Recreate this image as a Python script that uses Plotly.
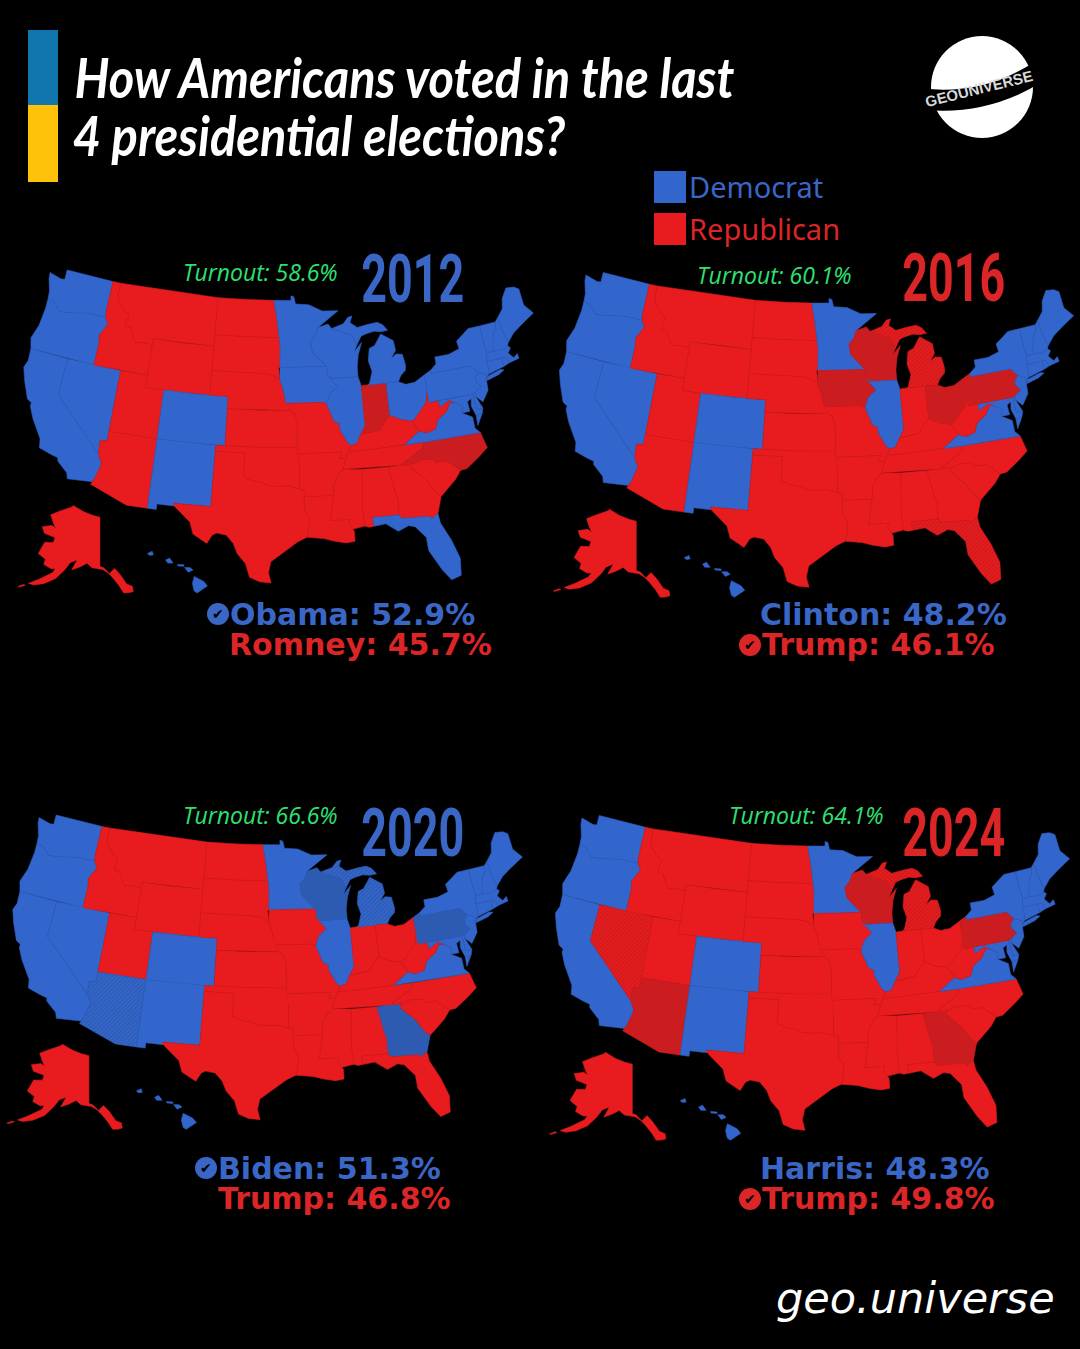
import json
import numpy as np
import plotly.graph_objects as go

# results shown on each map
YEARS = ["2012", "2016", "2020", "2024"]
TURNOUT = ["58.6%", "60.1%", "66.6%", "64.1%"]
DEM_LABELS = ["Obama: 52.9%", "Clinton: 48.2%", "Biden: 51.3%", "Harris: 48.3%"]
REP_LABELS = ["Romney: 45.7%", "Trump: 46.1%", "Trump: 46.8%", "Trump: 49.8%"]
WINNERS = ["D", "R", "D", "R"]

BLUE_CORE = ["WA", "OR", "CA", "CO", "NM", "MN", "IL", "VA", "MD", "DE", "NJ", "NY", "CT", "RI", "MA", "VT", "NH", "ME", "HI"]
DEM_2012 = BLUE_CORE + ["NV", "WI", "IA", "MI", "OH", "PA", "FL"]
DEM_2016 = BLUE_CORE + ["NV"]
DEM_2020 = BLUE_CORE + ["NV", "AZ", "WI", "MI", "PA", "GA"]
DEM_2024 = BLUE_CORE
DEM_STATES = [DEM_2012, DEM_2016, DEM_2020, DEM_2024]
FLIPPED = [["IN", "NC"], ["WI", "IA", "OH", "PA"], ["WI", "PA", "GA"], ["WI", "PA", "AZ", "GA"]]
HATCHED = [[], ["MI", "FL"], ["AZ", "MI"], ["NV", "MI"]]

# state outlines, lon/lat
WA = [(-124.7, 48.4), (-123.2, 48.15), (-122.75, 48.2), (-122.8, 49), (-117.03, 49), (-117.04, 46.42), (-116.92, 45.99), (-118.98, 46), (-119.3, 45.93), (-121.2, 45.65), (-122.3, 45.55), (-122.8, 45.9), (-123.2, 46.15), (-124, 46.27), (-124.1, 46.9), (-124.6, 47.9)]
OR = [(-124, 46.27), (-123.2, 46.15), (-122.8, 45.9), (-122.3, 45.55), (-121.2, 45.65), (-119.3, 45.93), (-118.98, 46), (-116.92, 45.99), (-116.5, 45.5), (-116.85, 44.95), (-117.2, 44.45), (-117.03, 43.83), (-117.03, 42), (-124.2, 42), (-124.55, 42.84), (-124.1, 44), (-123.95, 45.5)]
CA = [(-124.2, 42), (-120, 42), (-120, 39), (-114.63, 35), (-114.14, 34.3), (-114.52, 33.03), (-114.72, 32.72), (-117.12, 32.53), (-117.3, 33), (-118.4, 33.75), (-118.5, 34.03), (-119.2, 34.15), (-120.5, 34.45), (-120.65, 35.15), (-121.9, 36.6), (-122.5, 37.5), (-122.5, 37.8), (-123, 38), (-123.8, 39.3), (-124.35, 40.4), (-124.1, 41)]
NV = [(-120, 42), (-114.04, 42), (-114.04, 36.2), (-114.75, 36.1), (-114.63, 35), (-120, 39)]
ID = [(-117.03, 49), (-116.05, 49), (-116.05, 48), (-115.7, 47.45), (-114.7, 46.7), (-114.35, 46.65), (-114.5, 45.55), (-113.9, 45.6), (-113.45, 44.95), (-113, 44.45), (-112.3, 44.55), (-111.5, 44.55), (-111.05, 44.48), (-111.05, 42), (-117.03, 42), (-117.03, 43.83), (-117.2, 44.45), (-116.85, 44.95), (-116.5, 45.5), (-116.92, 45.99), (-117.04, 46.42)]
MT = [(-116.05, 49), (-104.05, 49), (-104.05, 45), (-111.05, 45), (-111.05, 44.48), (-111.5, 44.55), (-112.3, 44.55), (-113, 44.45), (-113.45, 44.95), (-113.9, 45.6), (-114.5, 45.55), (-114.35, 46.65), (-114.7, 46.7), (-115.7, 47.45), (-116.05, 48)]
WY = [(-111.05, 45), (-107.5, 45), (-104.05, 45), (-104.05, 41), (-107.5, 41), (-111.05, 41)]
UT = [(-114.04, 42), (-111.05, 42), (-111.05, 41), (-109.05, 41), (-109.05, 37), (-114.04, 37)]
CO = [(-109.05, 41), (-105.5, 41), (-102.05, 41), (-102.05, 37), (-105.5, 37), (-109.05, 37)]
AZ = [(-114.04, 37), (-109.05, 37), (-109.05, 31.33), (-111.07, 31.33), (-114.81, 32.5), (-114.72, 32.72), (-114.52, 33.03), (-114.14, 34.3), (-114.63, 35), (-114.75, 36.1), (-114.04, 36.2)]
NM = [(-109.05, 37), (-103, 37), (-103.04, 32), (-106.62, 32), (-106.53, 31.78), (-108.2, 31.78), (-108.2, 31.33), (-109.05, 31.33)]
ND = [(-104.05, 49), (-100.5, 49), (-97.23, 49), (-96.85, 47.5), (-96.56, 45.94), (-100.5, 45.94), (-104.05, 45.94)]
SD = [(-104.05, 45.94), (-100.5, 45.94), (-96.56, 45.94), (-96.45, 45.3), (-96.45, 43.5), (-96.6, 43.5), (-96.45, 42.49), (-97.2, 42.85), (-98.5, 43), (-104.05, 43)]
NE = [(-104.05, 43), (-98.5, 43), (-97.2, 42.85), (-96.45, 42.49), (-96.1, 41.7), (-95.9, 41), (-95.31, 40), (-102.05, 40), (-102.05, 41), (-104.05, 41)]
KS = [(-102.05, 40), (-98.5, 40), (-95.31, 40), (-94.9, 39.8), (-94.62, 39.1), (-94.62, 37), (-98.5, 37), (-102.04, 37)]
OK = [(-103, 37), (-98.5, 37), (-94.62, 37), (-94.43, 35.4), (-94.48, 33.64), (-95.5, 33.9), (-96.6, 33.85), (-97.5, 33.9), (-98.1, 34.13), (-99.2, 34.3), (-100, 34.56), (-100, 36.5), (-103, 36.5)]
TX = [(-103, 36.5), (-100, 36.5), (-100, 34.56), (-99.2, 34.3), (-98.1, 34.13), (-97.5, 33.9), (-96.6, 33.85), (-95.5, 33.9), (-94.48, 33.64), (-94.04, 33.55), (-94.04, 32), (-93.55, 31.2), (-93.7, 30.1), (-93.85, 29.7), (-94.7, 29.35), (-95.9, 28.6), (-97.2, 27.7), (-97.4, 26.8), (-97.15, 25.96), (-98.2, 26.05), (-99.1, 26.4), (-99.5, 27.5), (-100.3, 28.3), (-100.7, 29.1), (-101.4, 29.77), (-102.3, 29.88), (-102.7, 29.7), (-103.15, 28.98), (-104.5, 29.65), (-104.9, 30.6), (-106.53, 31.78), (-106.62, 32), (-103.04, 32)]
MN = [(-97.23, 49), (-95.15, 49), (-95.15, 49.38), (-94.8, 49.3), (-94.6, 48.7), (-93, 48.6), (-91.4, 48.05), (-89.5, 48), (-92, 46.7), (-92.3, 46.1), (-92.9, 45.6), (-92.75, 44.75), (-91.2, 43.5), (-96.45, 43.5), (-96.45, 45.3), (-96.56, 45.94), (-96.85, 47.5)]
IA = [(-96.45, 43.5), (-91.2, 43.5), (-91.1, 42.7), (-90.15, 41.8), (-91.05, 41.2), (-91.4, 40.4), (-91.75, 40.6), (-95.77, 40.58), (-95.9, 41), (-96.1, 41.7), (-96.45, 42.49)]
MO = [(-95.77, 40.58), (-91.75, 40.6), (-91.4, 40.4), (-90.7, 39), (-90.15, 38.8), (-90.2, 38.4), (-89.5, 37.3), (-89.13, 36.98), (-89.4, 36.5), (-89.7, 36), (-90.37, 36), (-90.1, 36.5), (-94.62, 36.5), (-94.62, 37), (-94.62, 39.1), (-94.9, 39.8), (-95.31, 40)]
AR = [(-94.62, 36.5), (-90.1, 36.5), (-90.37, 36), (-89.7, 36), (-90.1, 35.1), (-90.6, 34.7), (-91.1, 33.9), (-91.17, 33), (-94.04, 33.02), (-94.04, 33.55), (-94.48, 33.64), (-94.43, 35.4)]
LA = [(-94.04, 33.02), (-91.17, 33), (-91.6, 31), (-89.73, 31), (-89.85, 30.67), (-89.55, 30.18), (-89.4, 30), (-89.4, 29.2), (-90.2, 29.1), (-91.3, 29.3), (-92.3, 29.55), (-93.85, 29.7), (-93.7, 30.1), (-93.55, 31.2), (-94.04, 32)]
WI = [(-92, 46.7), (-90.8, 46.95), (-90.4, 46.57), (-88.1, 45.9), (-87.8, 45.35), (-87.6, 45.1), (-88, 44.55), (-87.05, 45.25), (-87.55, 44.3), (-87.8, 43.3), (-87.8, 42.49), (-90.64, 42.5), (-91.1, 42.7), (-91.2, 43.5), (-92.75, 44.75), (-92.9, 45.6), (-92.3, 46.1)]
IL = [(-90.64, 42.5), (-87.8, 42.49), (-87.53, 41.72), (-87.53, 39.35), (-87.5, 38.5), (-88.05, 37.8), (-88.5, 37.1), (-89.13, 36.98), (-89.5, 37.3), (-90.2, 38.4), (-90.15, 38.8), (-90.7, 39), (-91.4, 40.4), (-91.05, 41.2), (-90.15, 41.8), (-91.1, 42.7)]
IN = [(-87.53, 41.72), (-87.2, 41.76), (-84.8, 41.76), (-84.82, 39.1), (-85.4, 38.7), (-86, 38), (-86.8, 37.95), (-88.05, 37.8), (-87.5, 38.5), (-87.53, 39.35)]
MI_LOWER = [(-86.8, 41.76), (-84.8, 41.76), (-83.45, 41.73), (-83.1, 42.2), (-82.5, 42.6), (-82.42, 43), (-82.6, 43.9), (-83.3, 44), (-83.9, 43.7), (-83.3, 44.3), (-83.4, 45.1), (-84.75, 45.78), (-85.6, 44.9), (-86.25, 44.7), (-86.5, 43.7), (-86.2, 42.8), (-86.6, 41.9)]
MI_UPPER = [(-90.4, 46.57), (-89, 46.9), (-88.4, 47.4), (-87.9, 47.47), (-88.2, 46.95), (-87.4, 46.5), (-86.1, 46.67), (-85, 46.75), (-84.4, 46.5), (-83.9, 46), (-84.7, 45.95), (-85.5, 46.05), (-86.5, 45.9), (-87.05, 45.75), (-87.6, 45.1), (-87.8, 45.35), (-88.1, 45.9)]
OH = [(-84.8, 41.76), (-83.45, 41.73), (-82.7, 41.45), (-81.7, 41.5), (-80.52, 41.98), (-80.52, 40.64), (-80.85, 39.7), (-81.75, 39), (-82.2, 38.6), (-82.6, 38.42), (-83.7, 38.65), (-84.82, 39.1)]
KY = [(-89.13, 36.98), (-88.5, 37.1), (-88.05, 37.8), (-86.8, 37.95), (-86, 38), (-85.4, 38.7), (-84.82, 39.1), (-83.7, 38.65), (-82.6, 38.42), (-81.97, 37.54), (-83.68, 36.6), (-88.07, 36.5), (-89.4, 36.5)]
TN = [(-89.7, 36), (-89.4, 36.5), (-88.07, 36.5), (-83.68, 36.6), (-81.68, 36.59), (-82, 36.1), (-84.32, 34.99), (-90.1, 35.1)]
MS = [(-90.1, 35.1), (-88.2, 35), (-88.47, 31.9), (-88.4, 30.37), (-89.55, 30.18), (-89.85, 30.67), (-89.73, 31), (-91.6, 31), (-91.17, 33), (-91.1, 33.9), (-90.6, 34.7)]
AL = [(-88.2, 35), (-85.6, 34.98), (-85.18, 32.87), (-85, 32.3), (-85.05, 31), (-87.6, 31), (-87.5, 30.3), (-88, 30.25), (-88.4, 30.37), (-88.47, 31.9)]
GA = [(-85.6, 34.98), (-83.1, 35), (-83.35, 34.7), (-82, 33.5), (-81.4, 32.6), (-80.85, 32.03), (-81.4, 30.7), (-82.05, 30.36), (-82.2, 30.57), (-84.86, 30.7), (-85.05, 31), (-85, 32.3), (-85.18, 32.87)]
FL = [(-87.6, 31), (-85.05, 31), (-84.86, 30.7), (-82.2, 30.57), (-82.05, 30.36), (-81.4, 30.7), (-81.3, 29.9), (-80.55, 28.4), (-80.03, 26.8), (-80.2, 25.4), (-81.1, 25.15), (-81.8, 26.1), (-82.75, 27.8), (-82.8, 28.9), (-83.7, 29.9), (-84.3, 30.05), (-85.3, 29.68), (-86.4, 30.4), (-87.5, 30.3)]
SC = [(-83.1, 35), (-82.3, 35.2), (-81.05, 35.15), (-80.8, 34.82), (-79.67, 34.8), (-78.55, 33.86), (-79.2, 33.2), (-80.85, 32.03), (-81.4, 32.6), (-82, 33.5), (-83.35, 34.7)]
NC = [(-84.32, 34.99), (-82, 36.1), (-81.68, 36.59), (-75.85, 36.55), (-75.5, 35.25), (-76.5, 34.65), (-77.9, 33.9), (-78.55, 33.86), (-79.67, 34.8), (-80.8, 34.82), (-81.05, 35.15), (-82.3, 35.2), (-83.1, 35)]
VA = [(-83.68, 36.6), (-81.97, 37.54), (-81.3, 37.3), (-80.3, 37.5), (-79.95, 38.2), (-78.87, 38.76), (-78.35, 39.4), (-77.75, 39.32), (-77.1, 38.9), (-77.3, 38.4), (-76.3, 37.9), (-76.3, 37), (-75.85, 36.55), (-81.68, 36.59)]
VA_SHORE = [(-75.9, 37.95), (-75.25, 38.03), (-75.95, 37.15)]
WV = [(-82.6, 38.42), (-82.2, 38.6), (-81.75, 39), (-80.85, 39.7), (-80.52, 40.64), (-80.52, 39.72), (-79.48, 39.72), (-79.48, 39.2), (-78.4, 39.62), (-77.75, 39.32), (-78.35, 39.4), (-78.87, 38.76), (-79.95, 38.2), (-80.3, 37.5), (-81.3, 37.3), (-81.97, 37.54)]
MD = [(-79.48, 39.72), (-75.79, 39.72), (-75.7, 38.46), (-75.05, 38.45), (-75.25, 38.03), (-75.9, 37.95), (-76.2, 38.8), (-76.05, 39.4), (-76.5, 39.2), (-76.45, 38.4), (-77.3, 38.4), (-77.1, 38.9), (-77.75, 39.32), (-78.4, 39.62), (-79.48, 39.2)]
DE = [(-75.79, 39.72), (-75.45, 39.82), (-75.55, 39.5), (-75.05, 38.45), (-75.7, 38.46)]
PA = [(-80.52, 41.98), (-79.76, 42.27), (-79.76, 42), (-75.35, 42), (-74.7, 41.36), (-75.13, 40.98), (-75.2, 40.65), (-74.72, 40.15), (-75.45, 39.82), (-75.79, 39.72), (-80.52, 39.72), (-80.52, 40.64)]
NY = [(-79.76, 42.27), (-79.76, 42), (-75.35, 42), (-74.7, 41.36), (-73.9, 41), (-74, 40.7), (-73.65, 41), (-73.5, 41.3), (-73.5, 42.05), (-73.27, 42.75), (-73.35, 43.6), (-73.35, 45), (-74.7, 45), (-76.3, 44.2), (-76.2, 43.55), (-77.5, 43.27), (-79.05, 43.27), (-79.05, 42.7)]
LONG_ISLAND = [(-74.03, 40.6), (-73.75, 40.87), (-72.3, 41.15), (-71.9, 41.05), (-72.6, 40.78), (-73.9, 40.55)]
NJ = [(-75.13, 40.98), (-74.7, 41.36), (-73.9, 41), (-74, 40.7), (-74.1, 39.75), (-74.9, 38.93), (-75.55, 39.5), (-75.45, 39.82), (-74.72, 40.15), (-75.2, 40.65)]
CT = [(-73.5, 42.05), (-71.8, 42.02), (-71.85, 41.32), (-73.65, 41), (-73.5, 41.3)]
RI = [(-71.8, 42.02), (-71.38, 42.02), (-71.15, 41.5), (-71.85, 41.32)]
MA = [(-73.5, 42.05), (-73.27, 42.75), (-71.3, 42.7), (-70.85, 42.87), (-70.6, 42.65), (-71, 42.3), (-70.55, 41.8), (-70.05, 42.05), (-70, 41.65), (-71.15, 41.5), (-71.38, 42.02), (-71.8, 42.02)]
VT = [(-73.35, 45), (-71.5, 45), (-71.6, 44.5), (-72.05, 44.1), (-72.45, 43.1), (-72.46, 42.73), (-73.27, 42.75), (-73.35, 43.6)]
NH = [(-71.5, 45), (-71.08, 45.3), (-71, 44.3), (-70.7, 43.1), (-70.85, 42.87), (-71.3, 42.7), (-72.46, 42.73), (-72.45, 43.1), (-72.05, 44.1), (-71.6, 44.5)]
ME = [(-71.08, 45.3), (-70.3, 45.9), (-70, 46.7), (-69.23, 47.46), (-68.3, 47.35), (-67.79, 47.07), (-67.8, 45.7), (-67, 44.85), (-68.5, 44.3), (-69.8, 43.75), (-70.7, 43.1), (-71, 44.3)]
AK = [(-141, 69.65), (-141, 60.3), (-139.5, 60), (-137.5, 58.9), (-135.5, 59.8), (-133.5, 58.4), (-131.8, 56.6), (-130, 56), (-130, 55), (-131.5, 54.9), (-133.2, 55), (-134.5, 56.5), (-136.5, 58.1), (-138, 59), (-140, 59.7), (-144, 60), (-146, 60.8), (-148.5, 60), (-151.5, 59.2), (-150, 61.2), (-152.5, 60.5), (-154, 59), (-156.5, 57), (-160, 55.5), (-163, 54.7), (-164.8, 54.65), (-162, 56), (-158, 58), (-157.5, 58.8), (-159, 58.6), (-162, 59), (-162, 60), (-165.3, 60.6), (-164.5, 63), (-161, 63.5), (-161, 64.5), (-166, 64.6), (-168, 65.6), (-164, 66.5), (-162, 66.2), (-163.8, 67), (-166.5, 68.3), (-163, 69.5), (-157, 71), (-156.5, 71.35), (-150, 70.5), (-145, 70)]
ALEUT_1 = [(-166.9, 53.4), (-165.5, 54.1), (-166.2, 54.1), (-167.6, 53.3)]
HI_BIG = [(-155.9, 20.25), (-155.1, 19.85), (-154.8, 19.5), (-155.65, 18.95), (-155.9, 19.1), (-156.05, 19.7)]
HI_MAUI = [(-156.7, 20.95), (-156.25, 20.95), (-156, 20.75), (-156.4, 20.58)]
HI_MOLOKAI = [(-157.3, 21.2), (-156.75, 21.17), (-156.75, 21.05), (-157.25, 21.08)]
HI_OAHU = [(-158.28, 21.55), (-157.95, 21.7), (-157.65, 21.3), (-158.1, 21.3)]
HI_KAUAI = [(-159.8, 22.05), (-159.4, 22.23), (-159.3, 21.95), (-159.6, 21.9)]

OUTLINES = {
    "WA": [WA], "OR": [OR], "CA": [CA], "NV": [NV], "ID": [ID], "MT": [MT], "WY": [WY], "UT": [UT], "CO": [CO],
    "AZ": [AZ], "NM": [NM], "ND": [ND], "SD": [SD], "NE": [NE], "KS": [KS], "OK": [OK], "TX": [TX], "MN": [MN],
    "IA": [IA], "MO": [MO], "AR": [AR], "LA": [LA], "WI": [WI], "IL": [IL], "IN": [IN], "MI": [MI_LOWER, MI_UPPER],
    "OH": [OH], "KY": [KY], "TN": [TN], "MS": [MS], "AL": [AL], "GA": [GA], "FL": [FL], "SC": [SC], "NC": [NC],
    "VA": [VA, VA_SHORE], "WV": [WV], "MD": [MD], "DE": [DE], "PA": [PA], "NY": [NY, LONG_ISLAND], "NJ": [NJ],
    "CT": [CT], "RI": [RI], "MA": [MA], "VT": [VT], "NH": [NH], "ME": [ME],
    "AK": [AK, ALEUT_1], "HI": [HI_BIG, HI_MAUI, HI_MOLOKAI, HI_OAHU, HI_KAUAI],
}

W, H = 1080, 1349
BG = "black"
RED, RED_DARK, RED_LINE, RED_HATCH = "#E81C1E", "#CB1D20", "#D71B1D", "#9A1719"
BLUE, BLUE_DARK, BLUE_LINE, BLUE_HATCH = "#3366CC", "#2E5BB2", "#2E5EBE", "#24447F"
TEXT_BLUE, TEXT_RED = "#3A66C6", "#DC2527"
GREEN = "#2FE070"


def albers(lon, lat, lon0, lat0, lat1, lat2):
    lon, lat = np.radians(lon), np.radians(lat)
    lon0, lat0, lat1, lat2 = np.radians([lon0, lat0, lat1, lat2])
    n = (np.sin(lat1) + np.sin(lat2)) / 2
    c = np.cos(lat1) ** 2 + 2 * n * np.sin(lat1)
    rho = 6371 * np.sqrt(c - 2 * n * np.sin(lat)) / n
    rho0 = 6371 * np.sqrt(c - 2 * n * np.sin(lat0)) / n
    theta = n * (lon - lon0)
    return rho * np.sin(theta), rho0 - rho * np.cos(theta)


def project(state, ring):
    lon = np.array([p[0] for p in ring], dtype=float)
    lat = np.array([p[1] for p in ring], dtype=float)
    if state == "AK":
        x, y = albers(lon, lat, -141, 60.3, 55, 65)
        return x * 0.43 - 1658, y * 0.43 - 1135
    if state == "HI":
        x = (lon + 157) * 104
        y = (lat - 20.5) * 111
        return x * 1.04 - 928, y * 1.04 - 1198
    return albers(lon, lat, -96, 37.5, 29.5, 45.5)


def state_xy(state):
    xs, ys = [], []
    for ring in OUTLINES[state]:
        x, y = project(state, ring)
        xs += list(x) + [x[0], None]
        ys += list(y) + [y[0], None]
    return xs, ys


def paper(x, y):
    return x / W, 1 - y / H


# left, top, right, bottom of each map box, px per km, px of the projection centre
PANELS = [
    dict(box=(0, 250, 540, 670), kx=0.111, ky=0.110, cx=284, cy=441.5),
    dict(box=(540, 250, 1080, 670), kx=0.112, ky=0.1106, cx=822, cy=445),
    dict(box=(0, 800, 540, 1220), kx=0.111, ky=0.107, cx=273, cy=982),
    dict(box=(540, 800, 1080, 1220), kx=0.112, ky=0.1106, cx=818, cy=988),
]

fig = go.Figure()
layout_axes = {}
for i, panel in enumerate(PANELS):
    left, top, right, bottom = panel["box"]
    kx, ky, cx, cy = panel["kx"], panel["ky"], panel["cx"], panel["cy"]
    suffix = "" if i == 0 else str(i + 1)
    layout_axes["xaxis" + suffix] = dict(
        domain=[left / W, right / W], range=[(left - cx) / kx, (right - cx) / kx], visible=False, anchor="y" + suffix
    )
    layout_axes["yaxis" + suffix] = dict(
        domain=[1 - bottom / H, 1 - top / H], range=[(cy - bottom) / ky, (cy - top) / ky], visible=False, anchor="x" + suffix
    )
    for state in OUTLINES:
        dem = state in DEM_STATES[i]
        flipped = state in FLIPPED[i]
        hatched = state in HATCHED[i]
        if dem:
            base, dark, line, hatch = BLUE, BLUE_DARK, BLUE_LINE, BLUE_HATCH
        else:
            base, dark, line, hatch = RED, RED_DARK, RED_LINE, RED_HATCH
        xs, ys = state_xy(state)
        style = dict(fillcolor=dark if flipped else base)
        if hatched:
            style = dict(fillpattern=dict(shape="/", size=3, solidity=0.3, bgcolor=base, fgcolor=hatch))
        fig.add_trace(go.Scatter(
            x=xs, y=ys, mode="lines", fill="toself", line=dict(color=line, width=0.6),
            xaxis="x" + suffix, yaxis="y" + suffix, hoverinfo="skip", showlegend=False, **style
        ))

shapes = []


def rect(x0, y0, x1, y1, color):
    xa, ya = paper(x0, y0)
    xb, yb = paper(x1, y1)
    shapes.append(dict(type="rect", xref="paper", yref="paper", x0=xa, y0=ya, x1=xb, y1=yb,
                       fillcolor=color, line_width=0))


def circle(cx, cy, r, color):
    xa, ya = paper(cx - r, cy - r)
    xb, yb = paper(cx + r, cy + r)
    shapes.append(dict(type="circle", xref="paper", yref="paper", x0=xa, y0=ya, x1=xb, y1=yb,
                       fillcolor=color, line_width=0))


annotations = []


def label(text, x, y, size, color, family, anchor="left", weight="normal", style="normal", angle=0):
    xa, ya = paper(x, y)
    annotations.append(dict(
        text=text, x=xa, y=ya, xref="paper", yref="paper", xanchor=anchor, yanchor="middle", showarrow=False,
        textangle=angle, font=dict(size=size, color=color, family=family, weight=weight, style=style)
    ))


# header
rect(28, 30, 58, 105, "#1176AE")
rect(28, 105, 58, 182, "#FFC20A")
label("How Americans voted in the last", 404, 77, 55, "white", "Lato", anchor="center", weight="bold", style="italic")
label("4 presidential elections?", 319, 135, 55, "white", "Lato", anchor="center", weight="bold", style="italic")

rect(654, 171, 686, 203, BLUE)
rect(654, 213, 686, 245, RED)
label("Democrat", 687, 187, 29, TEXT_BLUE, "Noto Sans")
label("Republican", 687, 229, 29, TEXT_RED, "Noto Sans")

# logo
circle(982, 87, 51, "white")
band = "M {} {} Q {} {} {} {}".format(*paper(922, 99), *paper(985, 106), *paper(1038, 72))
shapes.append(dict(type="path", xref="paper", yref="paper", path=band, line=dict(color="black", width=21)))
label("GEOUNIVERSE", 979, 89, 15, "#D8D8D8", "Liberation Sans", anchor="center", weight="bold", angle=-14)

# text around each map
TURNOUT_POS = [(181, 272), (695, 275), (181, 815), (727, 815)]
YEAR_POS = [(412, 279), (953, 278), (412, 833), (953, 833)]
DEM_POS = [(228, 614), (758, 614), (216, 1168), (758, 1168)]
REP_POS = [(227, 644), (760, 644), (216, 1198), (760, 1198)]
for i, year in enumerate(YEARS):
    label("Turnout: " + TURNOUT[i], *TURNOUT_POS[i], 23, GREEN, "Open Sans", style="italic")
    year_color = TEXT_BLUE if WINNERS[i] == "D" else TEXT_RED
    label(year, *YEAR_POS[i], 66, year_color, "Roboto", anchor="center", weight="bold")
    label(DEM_LABELS[i], *DEM_POS[i], 30, TEXT_BLUE, "DejaVu Sans", weight="bold")
    label(REP_LABELS[i], *REP_POS[i], 30, TEXT_RED, "DejaVu Sans", weight="bold")
    if WINNERS[i] == "D":
        tick_x, tick_y, tick_color = DEM_POS[i][0] - 10, DEM_POS[i][1], TEXT_BLUE
    else:
        tick_x, tick_y, tick_color = REP_POS[i][0] - 10, REP_POS[i][1] + 1, TEXT_RED
    circle(tick_x, tick_y, 11, tick_color)
    label("✔", tick_x, tick_y, 14, "black", "DejaVu Sans", anchor="center")

label("geo.universe", 774, 1298, 43, "white", "DejaVu Sans", style="italic")

fig.update_layout(
    width=W, height=H, margin=dict(l=0, r=0, t=0, b=0), autosize=False,
    paper_bgcolor=BG, plot_bgcolor=BG, showlegend=False,
    shapes=shapes, annotations=annotations, **layout_axes
)

# the reference uses condensed fonts, squeeze these texts to their width
TEXT_WIDTHS = {"How Americans voted in the last": 660, "4 presidential elections?": 493}
for year in YEARS:
    TEXT_WIDTHS[year] = 103

squeeze = """
document.body.style.margin = '0';
document.body.style.background = 'black';
var widths = %s;
document.querySelectorAll('text.annotation-text').forEach(function (t) {
    var w = widths[t.textContent];
    if (!w) return;
    var b = t.getBBox();
    var c = b.x + b.width / 2;
    t.setAttribute('transform', 'translate(' + c + ' 0) scale(' + (w / b.width) + ' 1) translate(' + (-c) + ' 0)');
});
""" % json.dumps(TEXT_WIDTHS)

fig.write_html("out.html", post_script=squeeze, config={"displayModeBar": False})
